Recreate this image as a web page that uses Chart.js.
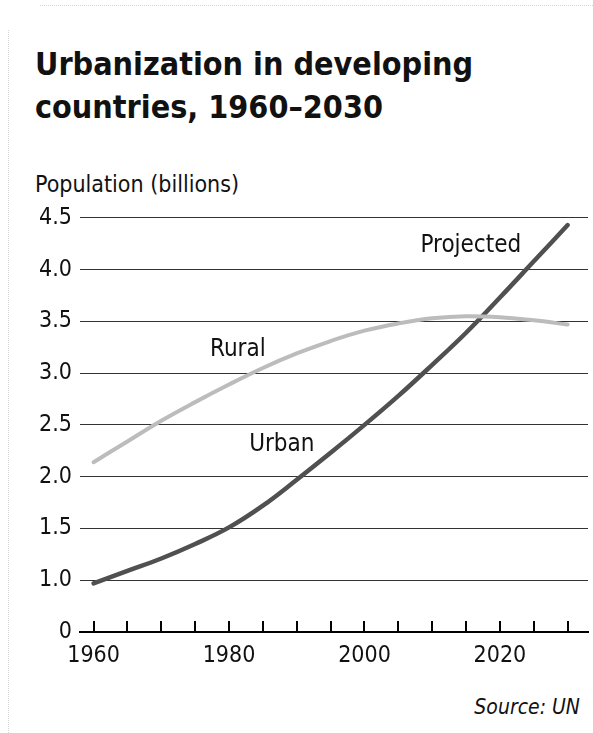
<!DOCTYPE html>
<html>
<head>
<meta charset="utf-8">
<script src="https://cdn.jsdelivr.net/npm/chart.js@4.4.1/dist/chart.umd.min.js"></script>
<style>
  body { margin: 0; width: 593px; height: 733px; background: #fff; position: relative; overflow: hidden;
         font-family: "DejaVu Sans Condensed", sans-serif; color: #111; }
  #topo { position: absolute; left: 40px; right: 0; top: 5px; border-top: 1px dotted #d4d4d4; }
  #lado { position: absolute; left: 8px; top: 30px; bottom: 0; border-left: 1px dotted #d4d4d4; }
  #titulo { position: absolute; left: 35px; top: 43px; margin: 0; font-size: 32px; font-weight: bold; line-height: 43px; }
  #unidade { position: absolute; left: 35px; top: 171px; font-size: 23px; }
  #fonte { position: absolute; right: 13px; top: 695px; font-size: 21px; font-style: italic; }
  #grafico { position: absolute; left: 0; top: 196px; }
</style>
</head>
<body>
<div id="topo"></div>
<div id="lado"></div>
<h1 id="titulo">Urbanization in developing<br>countries, 1960–2030</h1>
<div id="unidade">Population (billions)</div>
<canvas id="grafico" width="593" height="484"></canvas>
<div id="fonte">Source: UN</div>
<script>
const anos = [1960, 1965, 1970, 1975, 1980, 1985, 1990, 1995, 2000, 2005, 2010, 2015, 2020, 2025, 2030];
const urbano = [0.97, 1.09, 1.21, 1.35, 1.51, 1.72, 1.97, 2.23, 2.50, 2.78, 3.08, 3.39, 3.73, 4.08, 4.43];
const rural = [2.14, 2.34, 2.54, 2.72, 2.89, 3.05, 3.19, 3.31, 3.41, 3.48, 3.53, 3.55, 3.54, 3.51, 3.47];

const ticksX = [1960, 1965, 1970, 1975, 1980, 1985, 1990, 1995, 2000, 2005, 2010, 2015, 2020, 2025, 2030];
const rotulosX = [1960, 1980, 2000, 2020];
const ticksY = [0.5, 1.0, 1.5, 2.0, 2.5, 3.0, 3.5, 4.0, 4.5];

// rótulos das linhas, em unidades dos dados (ano, bilhões)
const rotulosTexto = ['Rural', 'Urban', 'Projected'];
const rotulosAno = [1981.3, 1987.8, 2015.7];
const rotulosValor = [3.23, 2.31, 4.23];

const fonteBase = '"DejaVu Sans Condensed", sans-serif';

const marcasX = {
  id: 'marcasX',
  afterDraw(chart) {
    const ctx = chart.ctx;
    const x = chart.scales.x;
    const base = chart.chartArea.bottom;
    ctx.save();
    ctx.strokeStyle = '#000';
    ctx.lineWidth = 2;
    x.ticks.forEach(t => {
      const px = Math.round(x.getPixelForValue(t.value));
      ctx.beginPath();
      ctx.moveTo(px, base);
      ctx.lineTo(px, base - 11);
      ctx.stroke();
    });
    ctx.restore();
  }
};

const textos = {
  id: 'textos',
  afterDraw(chart) {
    const ctx = chart.ctx;
    const { x, y } = chart.scales;
    ctx.save();
    ctx.fillStyle = '#111';
    ctx.font = '24px ' + fonteBase;
    ctx.textAlign = 'center';
    ctx.textBaseline = 'middle';
    rotulosTexto.forEach((t, i) => {
      ctx.fillText(t, x.getPixelForValue(rotulosAno[i]), y.getPixelForValue(rotulosValor[i]));
    });
    ctx.restore();
  }
};

const ctx = document.getElementById('grafico').getContext('2d');

new Chart(ctx, {
  type: 'line',
  data: {
    datasets: [
      {
        label: 'Rural',
        data: anos.map((a, i) => ({ x: a, y: rural[i] })),
        borderColor: '#bcbcbc',
        borderWidth: 4,
        pointRadius: 0,
        tension: 0.4,
        borderCapStyle: 'round'
      },
      {
        label: 'Urban',
        data: anos.map((a, i) => ({ x: a, y: urbano[i] })),
        borderColor: '#505050',
        borderWidth: 4.5,
        pointRadius: 0,
        tension: 0.4,
        borderCapStyle: 'round'
      }
    ]
  },
  options: {
    responsive: false,
    animation: false,
    layout: { padding: { top: 18, right: 5, left: 0, bottom: 0 } },
    plugins: {
      legend: { display: false },
      tooltip: { enabled: false }
    },
    scales: {
      x: {
        type: 'linear',
        min: 1958,
        max: 2033,
        afterBuildTicks: s => { s.ticks = ticksX.map(v => ({ value: v })); },
        afterFit: s => { s.height = 48; },
        ticks: {
          autoSkip: false,
          maxRotation: 0,
          padding: 10,
          color: '#111',
          font: { family: fonteBase, size: 23 },
          callback: v => rotulosX.includes(v) ? String(v) : ''
        },
        grid: { display: false, drawTicks: false },
        border: { display: true, color: '#000', width: 2 }
      },
      y: {
        min: 0.5,
        max: 4.5,
        afterBuildTicks: s => { s.ticks = ticksY.map(v => ({ value: v })); },
        afterFit: s => { s.width = 80; },
        ticks: {
          padding: 8,
          color: '#111',
          font: { family: fonteBase, size: 23 },
          callback: v => v === 0.5 ? '0' : v.toFixed(1)
        },
        grid: {
          drawTicks: false,
          lineWidth: 1,
          color: c => c.tick && c.tick.value === 0.5 ? 'rgba(0,0,0,0)' : '#333'
        },
        border: { display: false }
      }
    }
  },
  plugins: [marcasX, textos]
});
</script>
</body>
</html>
